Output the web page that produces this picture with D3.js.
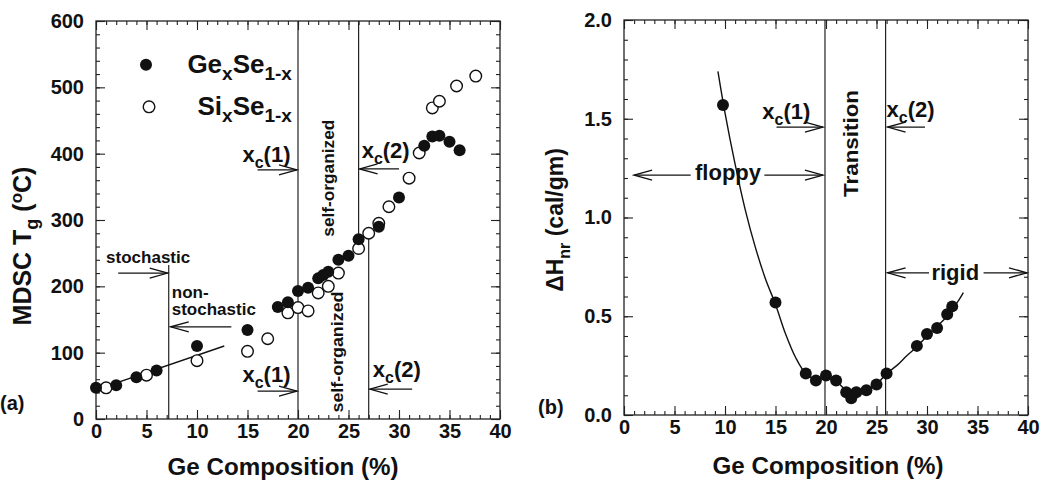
<!DOCTYPE html>
<html>
<head>
<meta charset="utf-8">
<script src="https://cdn.jsdelivr.net/npm/d3@7"></script>
<style>
  body { margin: 0; background: #fff; }
  svg text { font-family: "Liberation Sans", Arial, sans-serif; font-weight: bold; fill: #111; }
</style>
</head>
<body>
<script>
var W = 1042, H = 480;

// panel (a): Tg vs composition
var geX = [0, 2, 4, 6, 10, 15, 18, 19, 20, 21, 22, 22.5, 23, 24, 25, 26, 28, 30, 32.5, 33.3, 34, 35, 36];
var geY = [47, 51, 63, 73, 110, 134, 169, 176, 193, 198, 212, 217, 222, 240, 246, 271, 290, 334, 412, 426, 427, 418, 405];
var siX = [1, 5, 10, 15, 17, 19, 20, 21, 22, 23, 24, 26, 27, 28, 29, 31, 32, 33.3, 34, 35.7, 37.6];
var siY = [47, 66, 88, 102, 121, 160, 168, 163, 190, 200, 220, 257, 280, 295, 320, 363, 401, 469, 479, 502, 517];
var fitAX = [0, 12.7];
var fitAY = [44, 110];

// panel (b): non-reversing enthalpy
var dhX = [9.8, 15, 18, 19, 20, 21, 22, 22.5, 23, 24, 25, 26, 29, 30, 31, 32, 32.5];
var dhY = [1.57, 0.57, 0.21, 0.175, 0.2, 0.175, 0.115, 0.085, 0.115, 0.125, 0.155, 0.21, 0.35, 0.41, 0.44, 0.51, 0.55];
var fitBX = [9.3, 10, 11, 12, 13, 14, 15, 16, 17, 18, 19, 20, 21, 22, 22.5, 23, 24, 25, 26, 27, 28, 29, 30, 31, 32, 33, 33.6];
var fitBY = [1.74, 1.53, 1.27, 1.04, 0.85, 0.69, 0.56, 0.41, 0.29, 0.21, 0.18, 0.19, 0.17, 0.12, 0.09, 0.11, 0.125, 0.155, 0.21, 0.25, 0.3, 0.345, 0.4, 0.45, 0.5, 0.57, 0.62];

var xTicks = [0, 5, 10, 15, 20, 25, 30, 35, 40];
var yTicksA = [0, 100, 200, 300, 400, 500, 600];
var yTicksB = [0, 0.5, 1.0, 1.5, 2.0];

var svg = d3.select("body").append("svg")
    .attr("width", W)
    .attr("height", H);

var defs = svg.append("defs");
defs.append("marker")
    .attr("id", "head")
    .attr("viewBox", "-20 -7 22 14")
    .attr("refX", 0).attr("refY", 0)
    .attr("markerWidth", 22).attr("markerHeight", 14)
    .attr("markerUnits", "userSpaceOnUse")
    .attr("orient", "auto")
    .append("path")
    .attr("d", "M-18,-5L0,0L-18,5")
    .attr("fill", "none")
    .attr("stroke", "#111")
    .attr("stroke-width", 1.3);

// draws frame, inward ticks on all four sides, tick labels
function makePanel(left, top, w, h, yDomain, yMajor, yMinorStep, yFmt) {
    var g = svg.append("g").attr("transform", "translate(" + left + "," + top + ")");
    var x = d3.scaleLinear().domain([0, 40]).range([0, w]);
    var y = d3.scaleLinear().domain(yDomain).range([h, 0]);
    var xMinor = d3.range(0, 40.01, 1);
    var yMinor = d3.range(yDomain[0], yDomain[1] + 1e-6, yMinorStep);

    g.append("g").attr("transform", "translate(0," + h + ")")
        .call(d3.axisBottom(x).tickValues(xTicks).tickSize(-9).tickPadding(5).tickFormat(d3.format("d")));
    g.append("g").attr("transform", "translate(0," + h + ")")
        .call(d3.axisBottom(x).tickValues(xMinor).tickSize(-4).tickFormat(""));
    g.append("g").call(d3.axisTop(x).tickValues(xTicks).tickSize(-9).tickFormat(""));
    g.append("g").call(d3.axisTop(x).tickValues(xMinor).tickSize(-4).tickFormat(""));

    g.append("g")
        .call(d3.axisLeft(y).tickValues(yMajor).tickSize(-9).tickPadding(12).tickFormat(yFmt));
    g.append("g").call(d3.axisLeft(y).tickValues(yMinor).tickSize(-4).tickFormat(""));
    g.append("g").attr("transform", "translate(" + w + ",0)")
        .call(d3.axisRight(y).tickValues(yMajor).tickSize(-9).tickFormat(""));
    g.append("g").attr("transform", "translate(" + w + ",0)")
        .call(d3.axisRight(y).tickValues(yMinor).tickSize(-4).tickFormat(""));

    g.selectAll(".domain").remove();
    g.selectAll(".tick line").attr("stroke", "#222").attr("stroke-width", 1.1);
    g.selectAll(".tick text")
        .style("font-size", "20px")
        .style("font-family", "'Liberation Sans', Arial, sans-serif")
        .style("font-weight", "bold")
        .attr("fill", "#111");

    g.append("rect")
        .attr("width", w).attr("height", h)
        .attr("fill", "none")
        .attr("stroke", "#222")
        .attr("stroke-width", 1.3);
    return { g: g, x: x, y: y };
}

function vline(p, xv, y0, y1) {
    p.g.append("line")
        .attr("x1", p.x(xv)).attr("x2", p.x(xv))
        .attr("y1", p.y(y0)).attr("y2", p.y(y1))
        .attr("stroke", "#222").attr("stroke-width", 1.2);
}

function arrow(p, xa, xb, yv) {
    p.g.append("line")
        .attr("x1", p.x(xa)).attr("x2", p.x(xb))
        .attr("y1", p.y(yv)).attr("y2", p.y(yv))
        .attr("stroke", "#111").attr("stroke-width", 1.3)
        .attr("marker-end", "url(#head)");
}

function label(p, xv, yv, str, size, anchor) {
    return p.g.append("text")
        .attr("x", p.x(xv)).attr("y", p.y(yv))
        .attr("text-anchor", anchor || "start")
        .style("font-size", size + "px")
        .text(str);
}

// x_c label with subscript c
function xcLabel(p, xv, yv, n) {
    var t = p.g.append("text")
        .attr("x", p.x(xv)).attr("y", p.y(yv))
        .style("font-size", "22px");
    t.append("tspan").text("x");
    t.append("tspan").attr("dy", 6).style("font-size", "16px").text("c");
    t.append("tspan").attr("dy", -6).text("(" + n + ")");
}

function vlabel(p, xv, yv, str, size, len) {
    var t = p.g.append("text")
        .attr("transform", "translate(" + p.x(xv) + "," + p.y(yv) + ") rotate(-90)")
        .attr("text-anchor", "middle")
        .attr("dy", "0.35em")
        .style("font-size", size + "px")
        .text(str);
    if (len) t.attr("textLength", len).attr("lengthAdjust", "spacingAndGlyphs");
}

// ---------- panel (a) ----------
var a = makePanel(96, 21, 404, 398, [0, 600], yTicksA, 20, d3.format("d"));

vline(a, 7.2, 0, 232);
vline(a, 20, 0, 600);
vline(a, 26, 271, 600);
vline(a, 27, 0, 280);

a.g.append("path")
    .datum(d3.zip(fitAX, fitAY))
    .attr("d", d3.line().x(function (d) { return a.x(d[0]); }).y(function (d) { return a.y(d[1]); }))
    .attr("fill", "none").attr("stroke", "#111").attr("stroke-width", 1.4);

a.g.selectAll("circle.si")
    .data(d3.zip(siX, siY))
    .enter().append("circle")
    .attr("class", "si")
    .attr("cx", function (d) { return a.x(d[0]); })
    .attr("cy", function (d) { return a.y(d[1]); })
    .attr("r", 5.8)
    .attr("fill", "#fff").attr("stroke", "#111").attr("stroke-width", 1.4);

a.g.selectAll("circle.ge")
    .data(d3.zip(geX, geY))
    .enter().append("circle")
    .attr("class", "ge")
    .attr("cx", function (d) { return a.x(d[0]); })
    .attr("cy", function (d) { return a.y(d[1]); })
    .attr("r", 6)
    .attr("fill", "#111");

// legend
a.g.append("circle").attr("cx", a.x(4.95)).attr("cy", a.y(534)).attr("r", 6).attr("fill", "#111");
a.g.append("circle").attr("cx", a.x(5.25)).attr("cy", a.y(470.6)).attr("r", 5.8)
    .attr("fill", "#fff").attr("stroke", "#111").attr("stroke-width", 1.4);
var lg1 = a.g.append("text").attr("x", a.x(19.4)).attr("y", a.y(522)).attr("text-anchor", "end").style("font-size", "26px");
lg1.append("tspan").text("Ge");
lg1.append("tspan").attr("dy", 7).style("font-size", "19px").text("x");
lg1.append("tspan").attr("dy", -7).text("Se");
lg1.append("tspan").attr("dy", 7).style("font-size", "19px").text("1-x");
var lg2 = a.g.append("text").attr("x", a.x(19.4)).attr("y", a.y(458.5)).attr("text-anchor", "end").style("font-size", "26px");
lg2.append("tspan").text("Si");
lg2.append("tspan").attr("dy", 7).style("font-size", "19px").text("x");
lg2.append("tspan").attr("dy", -7).text("Se");
lg2.append("tspan").attr("dy", 7).style("font-size", "19px").text("1-x");

// annotations
xcLabel(a, 14.5, 388, 1);
arrow(a, 16, 19.9, 375.6);
vlabel(a, 23.0, 363, "self-organized", 17, 117);
xcLabel(a, 26.3, 394, 2);
arrow(a, 30, 26.1, 377);

label(a, 1.0, 235, "stochastic", 17);
arrow(a, 2.2, 7.1, 220);
label(a, 7.5, 182.5, "non-", 17);
label(a, 7.5, 157, "stochastic", 17);
arrow(a, 13.4, 7.4, 139);

xcLabel(a, 14.5, 56, 1);
arrow(a, 16, 19.9, 42);
vlabel(a, 23.9, 101, "self-organized", 17, 121);
xcLabel(a, 27.4, 63, 2);
arrow(a, 31.3, 27.1, 45);

// ---------- panel (b) ----------
var b = makePanel(624, 20, 404, 395, [0, 2], yTicksB, 0.1, d3.format(".1f"));

vline(b, 19.9, 0, 2);
vline(b, 25.9, 0, 2);

b.g.append("path")
    .datum(d3.zip(fitBX, fitBY))
    .attr("d", d3.line().curve(d3.curveCatmullRom)
        .x(function (d) { return b.x(d[0]); }).y(function (d) { return b.y(d[1]); }))
    .attr("fill", "none").attr("stroke", "#111").attr("stroke-width", 1.4);

b.g.selectAll("circle.dh")
    .data(d3.zip(dhX, dhY))
    .enter().append("circle")
    .attr("class", "dh")
    .attr("cx", function (d) { return b.x(d[0]); })
    .attr("cy", function (d) { return b.y(d[1]); })
    .attr("r", 6)
    .attr("fill", "#111");

xcLabel(b, 13.7, 1.50, 1);
arrow(b, 15.1, 19.7, 1.458);
arrow(b, 6.6, 1.0, 1.215);
arrow(b, 13.9, 19.7, 1.215);
label(b, 10.3, 1.19, "floppy", 22, "middle");
vlabel(b, 22.4, 1.375, "Transition", 21, 107);
xcLabel(b, 26.0, 1.51, 2);
arrow(b, 29.8, 26.1, 1.458);
arrow(b, 30.2, 26.1, 0.72);
arrow(b, 35.6, 39.9, 0.72);
label(b, 32.8, 0.685, "rigid", 22, "middle");

// ---------- axis titles ----------
var t1 = svg.append("text")
    .attr("transform", "translate(31,246) rotate(-90)")
    .attr("text-anchor", "middle")
    .style("font-size", "25px");
t1.append("tspan").text("MDSC T");
t1.append("tspan").attr("dy", 7).style("font-size", "18px").text("g");
t1.append("tspan").attr("dy", -7).text(" (");
t1.append("tspan").attr("dy", -9).style("font-size", "17px").text("o");
t1.append("tspan").attr("dy", 9).text("C)");

var t2 = svg.append("text")
    .attr("transform", "translate(563,220) rotate(-90)")
    .attr("text-anchor", "middle")
    .style("font-size", "23px");
t2.append("tspan").text("\u0394H");
t2.append("tspan").attr("dy", 7).style("font-size", "16px").text("nr");
t2.append("tspan").attr("dy", -7).text(" (cal/gm)");

svg.append("text").attr("x", 283).attr("y", 475).attr("text-anchor", "middle")
    .style("font-size", "24px")
    .attr("textLength", 231).attr("lengthAdjust", "spacingAndGlyphs")
    .text("Ge Composition (%)");
svg.append("text").attr("x", 828).attr("y", 474).attr("text-anchor", "middle")
    .style("font-size", "24px")
    .attr("textLength", 231).attr("lengthAdjust", "spacingAndGlyphs")
    .text("Ge Composition (%)");

svg.append("text").attr("x", 0).attr("y", 410).style("font-size", "20px").text("(a)");
svg.append("text").attr("x", 538).attr("y", 414).style("font-size", "20px").text("(b)");
</script>
</body>
</html>
